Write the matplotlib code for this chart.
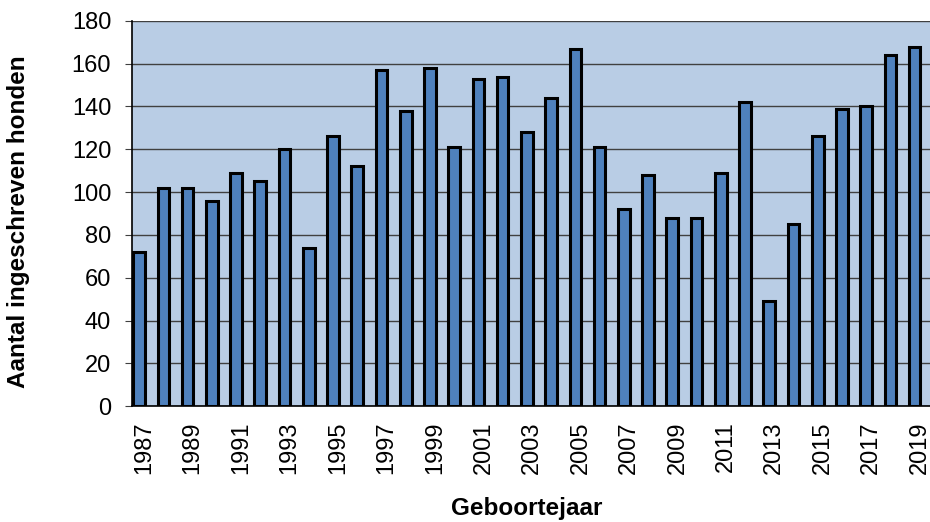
import matplotlib
matplotlib.use('Agg')
import matplotlib.pyplot as plt
import numpy as np

plt.rcParams['font.family'] = ['Liberation Sans', 'DejaVu Sans']

# Data
years = list(range(1987, 2020))
counts = [72, 102, 102, 96, 109, 105, 120, 74, 126, 112, 157, 138, 158, 121,
          153, 154, 128, 144, 167, 121, 92, 108, 88, 88, 109, 142, 49, 85,
          126, 139, 140, 164, 168]
tick_years = years[::2]

fig = plt.figure(figsize=(9.3, 5.22), dpi=100)
ax = fig.add_axes([0.142, 0.222, 0.860, 0.738])

ax.set_facecolor('#b9cde5')
# bars sit slightly left of the category centre (clustered-bar look)
x = np.array(years) - 0.21
ax.bar(x, counts, width=0.48, color='#4f81bd', edgecolor='black',
       linewidth=2.2, zorder=3)

ax.set_ylim(0, 180)
ax.set_xlim(1986.5, 2019.5)
ax.set_yticks(range(0, 181, 20))
ax.set_xticks(tick_years)
ax.set_xticklabels([str(y) for y in tick_years], rotation=90)
ax.tick_params(axis='both', labelsize=17)
ax.tick_params(axis='x', length=0, pad=11)
ax.tick_params(axis='y', length=5, direction='out', pad=10, color='#404040')

ax.yaxis.grid(True, color='#404040', linewidth=1, zorder=1)
ax.set_axisbelow(True)

for side in ['top', 'right']:
    ax.spines[side].set_visible(False)
ax.spines['left'].set_linewidth(1.2)
ax.spines['bottom'].set_linewidth(1.2)

ax.set_ylabel('Aantal ingeschreven honden', fontsize=17.5, fontweight='bold')
ax.set_xlabel('Geboortejaar', fontsize=17.5, fontweight='bold')
ax.yaxis.set_label_coords(-0.1275, 0.478)
ax.xaxis.set_label_coords(0.494, -0.235)

plt.savefig('out.png', dpi=100)
